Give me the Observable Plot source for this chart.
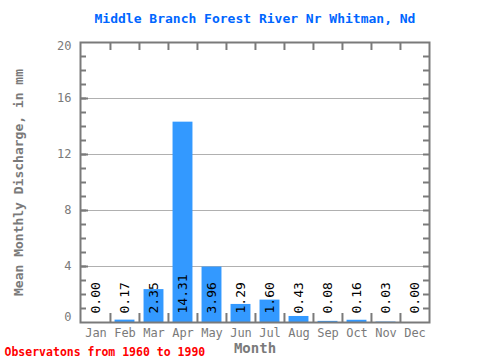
<!DOCTYPE html>
<html>
<head>
<meta charset="utf-8">
<script src="https://cdn.jsdelivr.net/npm/d3@7"></script>
<script src="https://cdn.jsdelivr.net/npm/@observablehq/plot@0.6"></script>
<style>
  html, body { margin: 0; padding: 0; background: #fff; }
  svg { font-family: "DejaVu Sans Mono", monospace; }
</style>
</head>
<body>
<div id="chart"></div>
<script>
const months = ["Jan","Feb","Mar","Apr","May","Jun","Jul","Aug","Sep","Oct","Nov","Dec"];
const values = [0.00, 0.17, 2.35, 14.31, 3.96, 1.29, 1.60, 0.43, 0.08, 0.16, 0.03, 0.00];
const yTicks = [0, 4, 8, 12, 16, 20];
const yMinor = d3.range(1, 20);
const title = "Middle Branch Forest River Nr Whitman, Nd";
const yLabel = "Mean Monthly Discharge, in mm";
const xLabel = "Month";
const caption = "Observatons from 1960 to 1990";

const data = months.map((m, i) => ({month: m, value: values[i]}));

const W = 480, H = 360;
const mL = 80, mR = 51, mT = 42, mB = 38;
const plotW = W - mL - mR, plotH = H - mT - mB;
const bw = plotW / months.length;
const barW = 20;
const gray = "#7a7a7a";

const chart = Plot.plot({
  width: W, height: H,
  marginLeft: mL, marginRight: mR, marginTop: mT, marginBottom: mB,
  x: {type: "band", domain: months, padding: 0, axis: null},
  y: {domain: [0, 20], axis: null},
  marks: [
    Plot.ruleY(yTicks.slice(1, -1), {stroke: "#b0b0b0", strokeWidth: 1}),
    Plot.barY(data, {x: "month", y: "value", fill: "#3399ff",
      insetLeft: (bw - barW) / 2, insetRight: (bw - barW) / 2}),
    // inward minor ticks left & right
    Plot.ruleY(yMinor, {stroke: gray, strokeWidth: 2, insetRight: plotW - 6}),
    Plot.ruleY(yMinor, {stroke: gray, strokeWidth: 2, insetLeft: plotW - 6}),
    Plot.ruleY(yTicks.slice(1, -1), {stroke: gray, strokeWidth: 2, insetRight: plotW - 8}),
    // inward ticks at month boundaries, top & bottom
    Plot.ruleX(months.slice(1), {x: d => d, dx: -bw / 2, stroke: gray, strokeWidth: 2, insetBottom: plotH - 8}),
    Plot.ruleX(months.slice(1), {x: d => d, dx: -bw / 2, stroke: gray, strokeWidth: 2, insetTop: plotH - 9}),
    Plot.frame({stroke: gray, strokeWidth: 2}),
    // value labels
    Plot.text(data, {x: "month", y: 0, text: d => d.value.toFixed(2), rotate: -90,
      textAnchor: "start", lineAnchor: "middle", dy: -9, fontSize: 13, fill: "#000"}),
    // y tick labels
    Plot.text(yTicks.slice(1, -1), {y: d => d, frameAnchor: "left", dx: -9, textAnchor: "end",
      text: d => String(d), fontSize: 12, fill: gray}),
    Plot.text([0], {y: d => d, frameAnchor: "left", dx: -9, dy: -5, textAnchor: "end",
      text: d => String(d), fontSize: 12, fill: gray}),
    Plot.text([20], {y: d => d, frameAnchor: "left", dx: -9, dy: 4, textAnchor: "end",
      text: d => String(d), fontSize: 12, fill: gray}),
    // x tick labels
    Plot.text(months, {x: d => d, frameAnchor: "bottom", dy: 11, lineAnchor: "middle",
      text: d => d, fontSize: 12, fill: gray}),
    // axis titles
    Plot.text([xLabel], {frameAnchor: "bottom", dy: 26, lineAnchor: "middle",
      fontSize: 14, fontWeight: "bold", fill: gray}),
    Plot.text([yLabel], {frameAnchor: "left", dx: -62, rotate: -90, textAnchor: "middle",
      lineAnchor: "middle", fontSize: 13, fontWeight: "bold", fill: gray}),
    // title & caption
    Plot.text([title], {frameAnchor: "top", dy: -24, lineAnchor: "middle",
      fontSize: 13, fontWeight: "bold", fill: "#0066ff"}),
    Plot.text([caption], {frameAnchor: "bottom-left", dx: -mL + 4, dy: 30, textAnchor: "start",
      lineAnchor: "middle", fontSize: 11.5, fontWeight: "bold", fill: "#ff0000"})
  ]
});
document.getElementById("chart").appendChild(chart);
</script>
</body>
</html>
